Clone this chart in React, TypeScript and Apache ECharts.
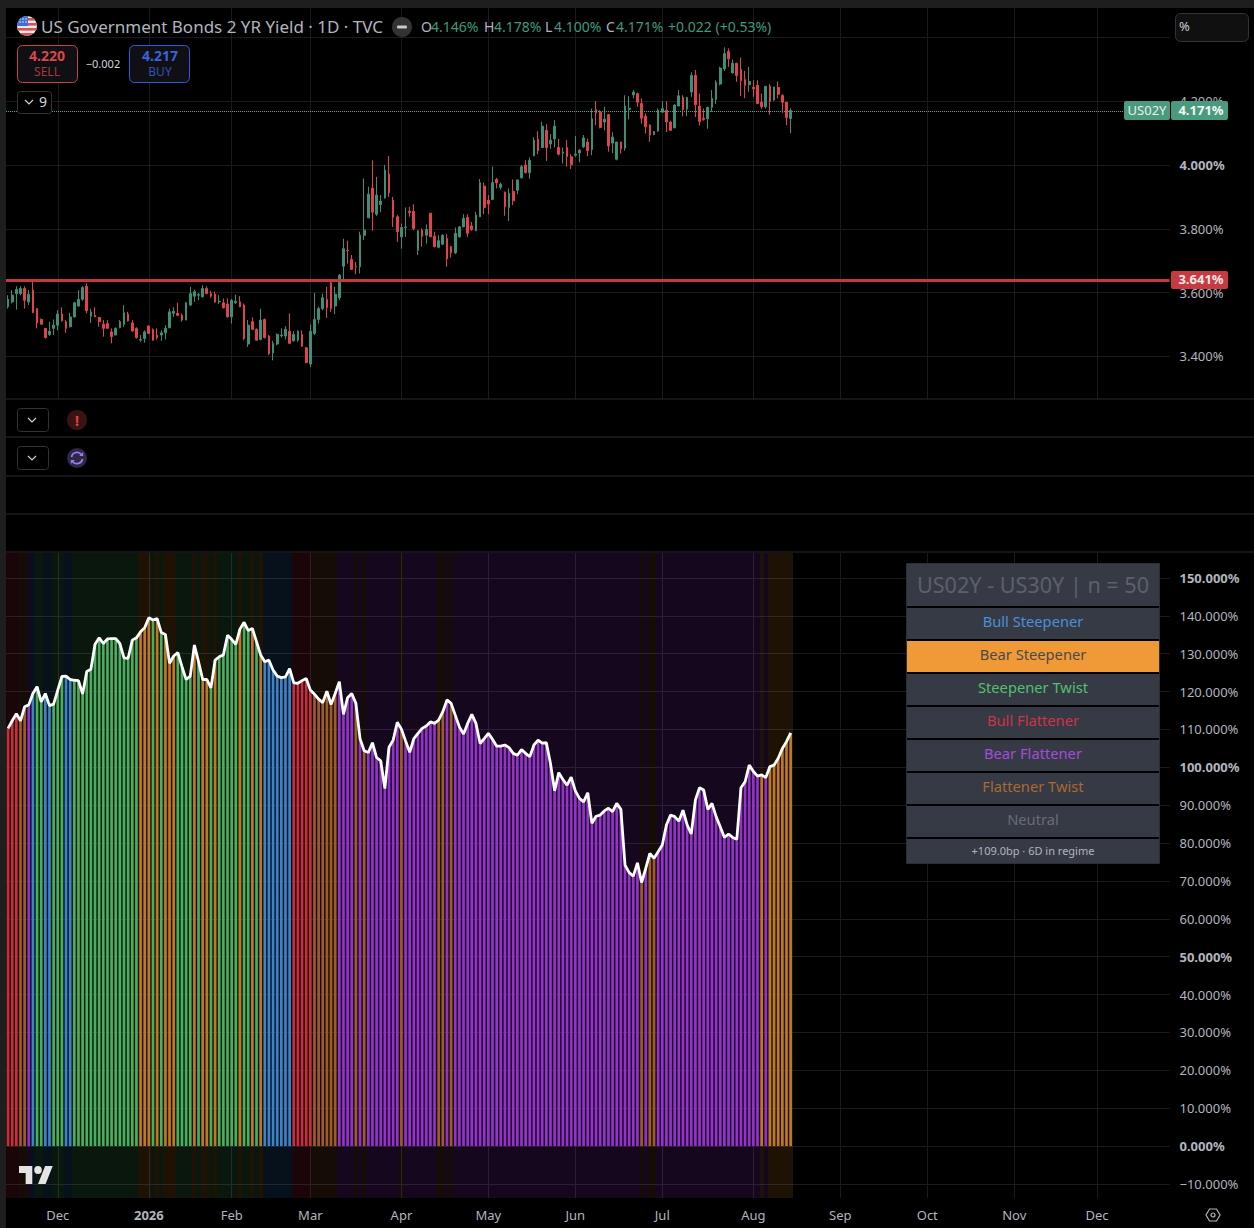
import React, { useEffect, useRef } from "react";
import * as echarts from "echarts";

const FONT = '"Noto Sans", "Open Sans", sans-serif';

// [open, close, low, high] per trading day
const candleRows: number[][] = [
[3.556,3.579,3.550,3.592],[3.571,3.592,3.566,3.608],[3.597,3.610,3.547,3.620],[3.597,3.613,3.592,3.620],[3.613,3.576,3.550,3.620],
[3.571,3.595,3.561,3.608],[3.608,3.537,3.537,3.639],[3.550,3.505,3.488,3.550],[3.516,3.501,3.501,3.519],[3.488,3.459,3.456,3.488],
[3.469,3.479,3.464,3.509],[3.488,3.498,3.467,3.516],[3.498,3.533,3.482,3.545],[3.533,3.512,3.509,3.554],[3.509,3.488,3.474,3.514],
[3.493,3.524,3.491,3.537],[3.524,3.568,3.522,3.571],[3.558,3.579,3.556,3.608],[3.579,3.616,3.574,3.620],[3.620,3.543,3.535,3.629],
[3.526,3.539,3.505,3.550],[3.529,3.524,3.524,3.554],[3.522,3.509,3.493,3.524],[3.501,3.488,3.462,3.514],[3.503,3.488,3.488,3.514],
[3.477,3.462,3.441,3.488],[3.467,3.488,3.467,3.491],[3.490,3.509,3.488,3.514],[3.501,3.537,3.493,3.561],[3.533,3.512,3.509,3.540],
[3.505,3.480,3.477,3.514],[3.488,3.459,3.456,3.491],[3.451,3.453,3.446,3.467],[3.456,3.477,3.443,3.482],[3.495,3.472,3.470,3.498],
[3.484,3.451,3.449,3.488],[3.467,3.459,3.453,3.488],[3.467,3.474,3.449,3.482],[3.474,3.488,3.453,3.498],[3.490,3.540,3.488,3.550],
[3.535,3.542,3.524,3.554],[3.535,3.529,3.526,3.568],[3.529,3.514,3.509,3.535],[3.514,3.568,3.514,3.571],[3.561,3.597,3.558,3.618],
[3.589,3.603,3.571,3.610],[3.592,3.594,3.576,3.599],[3.587,3.613,3.585,3.623],[3.613,3.597,3.595,3.620],[3.597,3.589,3.584,3.606],
[3.595,3.571,3.568,3.603],[3.571,3.573,3.564,3.592],[3.568,3.553,3.550,3.582],[3.564,3.524,3.522,3.582],[3.524,3.576,3.503,3.580],
[3.568,3.573,3.564,3.594],[3.571,3.556,3.554,3.589],[3.561,3.456,3.451,3.566],[3.439,3.498,3.430,3.514],[3.509,3.485,3.482,3.522],
[3.485,3.451,3.449,3.488],[3.453,3.514,3.451,3.550],[3.516,3.459,3.456,3.519],[3.464,3.409,3.404,3.467],[3.411,3.441,3.388,3.449],
[3.439,3.469,3.435,3.472],[3.465,3.467,3.459,3.488],[3.464,3.485,3.453,3.495],[3.479,3.441,3.439,3.535],[3.449,3.469,3.446,3.479],
[3.451,3.479,3.446,3.482],[3.469,3.432,3.430,3.482],[3.427,3.381,3.378,3.430],[3.376,3.479,3.367,3.500],[3.472,3.516,3.467,3.599],
[3.516,3.550,3.503,3.556],[3.550,3.584,3.545,3.597],[3.579,3.553,3.521,3.618],[3.631,3.550,3.540,3.636],[3.558,3.595,3.533,3.618],
[3.584,3.655,3.576,3.658],[3.683,3.738,3.641,3.769],[3.733,3.731,3.691,3.763],[3.704,3.673,3.671,3.718],[3.683,3.681,3.658,3.696],
[3.681,3.780,3.660,3.791],[3.780,3.796,3.765,3.958],[3.835,3.909,3.833,3.932],[3.928,3.852,3.794,4.015],[3.846,3.906,3.840,3.963],
[3.876,3.887,3.852,3.906],[3.897,3.984,3.895,4.000],[3.972,3.913,3.900,4.028],[3.890,3.836,3.806,3.900],[3.838,3.791,3.759,3.843],
[3.775,3.804,3.738,3.817],[3.804,3.806,3.775,3.867],[3.855,3.851,3.838,3.869],[3.855,3.801,3.796,3.877],[3.733,3.794,3.718,3.796],
[3.796,3.777,3.744,3.801],[3.780,3.798,3.754,3.814],[3.849,3.775,3.775,3.849],[3.777,3.744,3.742,3.791],[3.742,3.763,3.739,3.780],
[3.752,3.780,3.749,3.783],[3.770,3.706,3.681,3.783],[3.744,3.725,3.710,3.746],[3.725,3.786,3.721,3.804],[3.775,3.806,3.773,3.809],
[3.806,3.833,3.806,3.846],[3.836,3.786,3.775,3.846],[3.809,3.798,3.794,3.822],[3.794,3.843,3.793,3.853],[3.838,3.945,3.838,3.956],
[3.934,3.867,3.846,3.945],[3.890,3.878,3.846,3.906],[3.892,3.945,3.890,3.995],[3.955,3.944,3.927,3.960],[3.930,3.940,3.923,3.945],
[3.915,3.869,3.841,3.917],[3.867,3.912,3.825,3.927],[3.917,3.888,3.875,3.955],[3.921,3.953,3.909,3.955],[3.960,3.995,3.958,4.000],
[4.000,3.976,3.974,4.015],[3.976,4.015,3.957,4.024],[4.029,4.078,4.028,4.087],[4.081,4.045,4.034,4.106],[4.055,4.122,4.054,4.136],
[4.109,4.055,4.013,4.128],[4.066,4.078,4.051,4.097],[4.082,4.122,4.055,4.141],[4.055,4.034,4.030,4.082],[4.038,4.041,4.005,4.055],
[4.055,4.026,3.995,4.078],[4.026,4.001,3.988,4.034],[4.031,4.034,4.026,4.091],[4.038,4.047,4.009,4.049],[4.057,4.085,4.054,4.094],
[4.072,4.045,4.028,4.083],[4.049,4.145,4.031,4.177],[4.174,4.164,4.125,4.200],[4.166,4.118,4.115,4.172],[4.135,4.144,4.109,4.183],
[4.158,4.060,4.042,4.160],[4.069,4.088,4.038,4.103],[4.018,4.072,4.015,4.073],[4.072,4.051,4.036,4.073],[4.053,4.185,4.045,4.219],
[4.174,4.178,4.143,4.216],[4.220,4.229,4.209,4.235],[4.224,4.197,4.183,4.227],[4.193,4.147,4.130,4.209],[4.153,4.120,4.099,4.162],
[4.125,4.094,4.073,4.128],[4.095,4.105,4.094,4.107],[4.107,4.172,4.104,4.177],[4.166,4.177,4.164,4.200],[4.172,4.135,4.104,4.200],
[4.135,4.109,4.107,4.139],[4.117,4.188,4.115,4.191],[4.185,4.217,4.185,4.235],[4.212,4.174,4.153,4.219],[4.176,4.212,4.153,4.214],
[4.229,4.281,4.214,4.291],[4.281,4.189,4.151,4.298],[4.185,4.137,4.124,4.224],[4.147,4.143,4.139,4.177],[4.145,4.181,4.114,4.183],
[4.181,4.209,4.167,4.235],[4.206,4.259,4.191,4.266],[4.254,4.304,4.250,4.308],[4.302,4.350,4.295,4.369],[4.356,4.333,4.308,4.366],
[4.289,4.319,4.287,4.331],[4.319,4.281,4.261,4.321],[4.300,4.264,4.216,4.337],[4.268,4.250,4.210,4.295],[4.252,4.262,4.230,4.308],
[4.244,4.239,4.214,4.266],[4.250,4.193,4.191,4.266],[4.197,4.183,4.176,4.224],[4.183,4.247,4.177,4.247],[4.247,4.199,4.158,4.254],
[4.204,4.245,4.201,4.245],[4.243,4.222,4.209,4.262],[4.218,4.197,4.164,4.222],[4.197,4.149,4.125,4.197],[4.146,4.171,4.100,4.178],
];

const spreadLine: number[] = [
110.3,112.3,114.2,112.3,116.0,116.5,119.5,121.3,117.3,119.5,116.3,116.7,120.4,124.0,124.1,123.2,123.0,122.9,119.4,125.3,
125.9,132.5,134.2,132.7,133.9,134.0,134.0,132.7,128.9,128.8,133.6,134.2,135.8,136.9,139.5,138.9,139.3,135.6,135.1,127.5,
129.4,130.3,126.6,123.2,124.1,132.3,127.9,123.2,123.2,121.0,128.3,129.2,129.7,134.9,133.8,132.5,136.5,138.3,136.1,136.7,
133.2,129.7,127.9,128.3,125.7,124.1,123.7,123.9,126.1,122.3,122.2,122.9,123.5,120.4,119.3,118.0,117.1,120.1,116.6,119.5,
122.6,114.0,118.4,119.5,116.9,107.6,104.4,103.9,106.5,102.6,101.7,94.4,105.3,107.2,111.9,110.1,107.0,104.0,107.6,109.0,
110.3,110.9,112.0,111.6,112.5,114.7,117.8,116.9,113.8,110.7,108.8,111.6,114.0,111.6,106.3,107.6,109.0,107.4,105.6,105.6,
105.9,105.2,103.7,103.2,104.7,103.7,102.8,105.9,107.2,106.4,106.5,101.0,93.8,98.6,96.8,95.3,97.4,93.8,91.8,90.9,
93.3,85.2,87.1,87.4,88.5,89.2,88.3,90.5,88.9,74.2,72.2,71.3,74.8,69.6,73.3,77.3,76.0,77.7,79.5,84.8,
87.4,87.0,85.8,88.7,84.8,82.4,91.4,94.6,94.0,88.9,90.5,87.0,84.3,81.5,82.4,81.5,81.0,94.6,96.2,100.6,
98.9,97.7,98.0,97.3,100.2,100.6,102.4,105.0,106.8,109.1,
];

// [regime, consecutive trading days]; BS bull steepener, SB bear steepener, ST steepener twist, BF bull flattener, FB bear flattener, FT flattener twist
const regimeRuns: [string, number][] = [
["BF",3],["FT",2],["FB",1],["BS",1],["ST",2],["BS",2],["ST",3],["BS",2],["ST",16],["SB",3],["ST",1],["SB",1],["ST",1],["SB",3],["ST",4],["SB",1],["ST",1],["SB",2],["ST",1],["SB",1],["ST",5],["SB",1],["ST",2],["SB",1],["ST",1],["SB",1],
["BS",7],["BF",5],["FT",6],["FB",4],["FT",1],["FB",1],["FT",1],["FB",8],["FT",1],["FB",8],["FT",2],["FB",1],["FT",1],["FB",45],["FT",1],["FB",1],["FT",2],["FB",25],["SB",1],["FB",1],["SB",6],
];

const regimeColor: Record<string, string> = { BS: "#3c83c8", SB: "#bd7925", ST: "#4bae5f", BF: "#c4303f", FB: "#9433c9", FT: "#9f5c2b" };
const regimeBand: Record<string, string> = { BS: "rgba(50,130,210,0.13)", SB: "rgba(230,140,30,0.13)", ST: "rgba(70,190,100,0.12)", BF: "rgba(210,40,60,0.13)", FB: "rgba(150,50,210,0.14)", FT: "rgba(210,120,50,0.1)" };

const monthTicks: [number, string][] = [[12,"Dec"],[34,"2026"],[54,"Feb"],[73,"Mar"],[95,"Apr"],[116,"May"],[137,"Jun"],[158,"Jul"],[180,"Aug"],[201,"Sep"],[222,"Oct"],[243,"Nov"],[263,"Dec"]];
const slotCount = 281;
const priceGridTicks = [3.4, 3.6, 3.8, 4.0, 4.2, 4.4];
const priceLabelTicks = [3.4, 3.6, 3.8, 4.0, 4.2];
const spreadTicks = [-10,0,10,20,30,40,50,60,70,80,90,100,110,120,130,140,150];
const lastClose = 4.171;
const alertLevel = 3.641;

const legendRows: [string, string, number, number][] = [
["Bull Steepener","#4a90d9",608,639],["Bear Steepener","#4a4a4a",641,672],["Steepener Twist","#51c06f",674,705],["Bull Flattener","#cf3348",707,738],
["Bear Flattener","#a64cdc",740,771],["Flattener Twist","#a9692f",773,804],["Neutral","#696c77",806,837],
];

const FLAG = "data:image/svg+xml;utf8," + encodeURIComponent('<svg xmlns="http://www.w3.org/2000/svg" viewBox="0 0 20 20"><defs><clipPath id="c"><circle cx="10" cy="10" r="10"/></clipPath></defs><g clip-path="url(#c)"><rect width="20" height="20" fill="#e8e8ee"/><rect y="2" width="20" height="2.6" fill="#d9534f"/><rect y="7" width="20" height="2.6" fill="#d9534f"/><rect y="12" width="20" height="2.6" fill="#d9534f"/><rect y="17" width="20" height="3" fill="#d9534f"/><rect width="11" height="10" fill="#3c6fd8"/><g fill="#fff"><circle cx="3" cy="3" r=".7"/><circle cx="6" cy="3" r=".7"/><circle cx="9" cy="3" r=".7"/><circle cx="3" cy="6" r=".7"/><circle cx="6" cy="6" r=".7"/><circle cx="9" cy="6" r=".7"/></g></g></svg>');
const REFRESH = "data:image/svg+xml;utf8," + encodeURIComponent('<svg xmlns="http://www.w3.org/2000/svg" viewBox="0 0 20 20"><circle cx="10" cy="10" r="10" fill="#2e2745"/><g fill="none" stroke="#9b7bea" stroke-width="1.7"><path d="M4.5 9a5.6 5.6 0 0 1 10-2.4"/><path d="M15.5 11a5.6 5.6 0 0 1-10 2.4"/></g><path d="M16.2 4v4h-4z" fill="#9b7bea"/><path d="M3.8 16v-4h4z" fill="#9b7bea"/></svg>');
const GEAR = "data:image/svg+xml;utf8," + encodeURIComponent('<svg xmlns="http://www.w3.org/2000/svg" viewBox="0 0 16 16"><path d="M4.5 2h7L15 8l-3.5 6h-7L1 8z" fill="none" stroke="#b2b5be" stroke-width="1.2"/><circle cx="8" cy="8" r="2" fill="none" stroke="#b2b5be" stroke-width="1.2"/></svg>');

echarts.graphic.registerShape("tvLogo", echarts.graphic.extendPath("M14 22H7V11H0V4h14v18zM28 22h-8l7.5-18h8L28 22z M24 8a4 4 0 1 1-8 0 4 4 0 0 1 8 0z" as any, {}));

function txt(text: string, x: number, y: number, fill: string, size: number, align = "left", weight = "normal") {
  return { type: "text", z: 60, silent: true, style: { text, x, y: y - 1, fill, font: `${weight} ${size}px ${FONT}`, align, verticalAlign: "middle" } };
}
function box(x: number, y: number, w: number, h: number, fill: string, stroke = "", r = 0) {
  return { type: "rect", z: 50, silent: true, shape: { x, y, width: w, height: h, r }, style: { fill, stroke: stroke || undefined, lineWidth: stroke ? 1 : 0 } };
}
function rule(y: number) {
  return { type: "line", z: 40, silent: true, shape: { x1: 6, y1: y, x2: 1254, y2: y }, style: { stroke: "#2a2a33", lineWidth: 1 } };
}
function chevron(cx: number, cy: number) {
  return { type: "polyline", z: 60, silent: true, shape: { points: [[cx - 4, cy - 2], [cx, cy + 2], [cx + 4, cy - 2]] }, style: { stroke: "#d1d4dc", lineWidth: 1.2, fill: "none" } };
}

function buildOption() {
  const regimes: string[] = regimeRuns.flatMap(([r, n]) => Array(n).fill(r));
  const slots = Array.from({ length: slotCount }, (_, i) => String(i));
  const tickMap = new Map(monthTicks);
  const isTick = (i: number) => tickMap.has(i);
  const gridColor = "#1b1b1f";

  const xCommon = {
    type: "category",
    data: slots,
    boundaryGap: true,
    axisLine: { show: false },
    axisTick: { show: false, alignWithLabel: true, interval: (i: number) => isTick(i) },
    splitLine: { show: true, alignWithLabel: true, interval: (i: number) => isTick(i), lineStyle: { color: gridColor, width: 1 } },
  };
  const yLabel = { color: "#b2b5be", fontFamily: FONT, fontSize: 13, margin: 10 };

  const elements: any[] = [
    box(0, 0, 1254, 8, "#1e1e1e"),
    box(0, 0, 6, 1228, "#1e1e1e"),
    rule(399), rule(437), rule(476), rule(514), rule(552),
    { type: "image", z: 60, silent: true, style: { image: FLAG, x: 17, y: 16, width: 20, height: 20 } },
    txt("US Government Bonds 2 YR Yield · 1D · TVC", 41, 27, "#b2b5be", 17),
    { type: "circle", z: 50, silent: true, shape: { cx: 402, cy: 27, r: 10 }, style: { fill: "#333" } },
    box(397, 25.5, 10, 3, "#c8c8c8", "", 1),
    txt("O", 421, 27, "#b2b5be", 14), txt("4.146%", 431, 27, "#3f9a7f", 14),
    txt("H", 484, 27, "#b2b5be", 14), txt("4.178%", 494, 27, "#3f9a7f", 14),
    txt("L", 545, 27, "#b2b5be", 14), txt("4.100%", 554, 27, "#3f9a7f", 14),
    txt("C", 606, 27, "#b2b5be", 14), txt("4.171%", 616, 27, "#3f9a7f", 14),
    txt("+0.022 (+0.53%)", 668, 27, "#3f9a7f", 14),
    box(17.5, 45.5, 60, 37, "#101014", "#c5444a", 5),
    txt("4.220", 47, 56, "#d8454c", 14, "center", "bold"), txt("SELL", 47, 72, "#a8383e", 12, "center"),
    txt("−0.002", 103, 64, "#d1d4dc", 11, "center"),
    box(129.5, 45.5, 60, 37, "#101014", "#2f5be0", 5),
    txt("4.217", 160, 56, "#3b62dc", 14, "center", "bold"), txt("BUY", 160, 72, "#2f52bb", 12, "center"),
    box(17.5, 91.5, 34, 22, "#000", "#333", 3), chevron(29, 102), txt("9", 43, 102, "#d1d4dc", 14, "center"),
    box(1175.5, 13.5, 73, 28, "#101010", "#333", 5), txt("%", 1179, 27, "#c8cad0", 13),
    box(1124, 101, 46, 19, "#4a9a80", "", 2), txt("US02Y", 1147, 111, "#e8f0ec", 13, "center"),
    box(1171, 101, 57, 19, "#4a9a80", "", 2), txt("4.171%", 1201, 111, "#f2f5f3", 13, "center", "bold"),
    box(1171, 271, 57, 18, "#c63b42", "", 2), txt("3.641%", 1201, 280, "#f5e8e8", 13, "center", "bold"),
    box(17.5, 408.5, 31, 23, "#000", "#333", 3), chevron(32, 420),
    { type: "circle", z: 50, silent: true, shape: { cx: 77, cy: 420, r: 10 }, style: { fill: "#3a1414" } },
    txt("!", 77, 421, "#e8413f", 14, "center", "bold"),
    box(17.5, 446.5, 31, 23, "#000", "#333", 3), chevron(32, 458),
    { type: "image", z: 60, silent: true, style: { image: REFRESH, x: 67, y: 448, width: 20, height: 20 } },
    box(906.5, 563.5, 253, 300, "#000", "#2a2e39"),
    box(907, 564, 252, 42, "#363a45"),
    txt("US02Y - US30Y | n = 50", 1033, 585, "#5d606b", 21.6, "center"),
    box(907, 839, 252, 24, "#363a45"),
    txt("+109.0bp · 6D in regime", 1033, 851, "#b2b5be", 11, "center"),
    { type: "tvLogo", z: 60, silent: true, x: 19, y: 1162, scaleX: 0.95, scaleY: 1, style: { fill: "#e4e4e4" } },
    { type: "image", z: 60, silent: true, style: { image: GEAR, x: 1205, y: 1207, width: 16, height: 16 } },
  ];
  for (const [label, color, y0, y1] of legendRows) {
    elements.push(box(907, y0, 252, y1 - y0, label === "Bear Steepener" ? "#ef9a36" : "#363a45"));
    elements.push(txt(label, 1033, (y0 + y1) / 2 - 1.5, color, 14.7, "center"));
  }

  const rich = { b: { fontWeight: "bold", color: "#b2b5be", fontFamily: FONT, fontSize: 13 } };

  return {
    animation: false,
    backgroundColor: "#000",
    textStyle: { fontFamily: FONT },
    graphic: { elements },
    grid: [
      { left: 6, top: 8, width: 1163.5, height: 391 },
      { left: 6, top: 553, width: 1163.5, height: 645 },
    ],
    xAxis: [
      { ...xCommon, gridIndex: 0, axisLabel: { show: false } },
      {
        ...xCommon,
        gridIndex: 1,
        axisLabel: {
          show: true,
          interval: (i: number) => isTick(i),
          formatter: (_v: string, i: number) => (tickMap.get(i) === "2026" ? "{b|2026}" : tickMap.get(i) ?? ""),
          color: "#b2b5be",
          fontFamily: FONT,
          fontSize: 13,
          margin: 10,
          rich,
          hideOverlap: false,
        },
      },
    ],
    yAxis: [
      {
        type: "value", gridIndex: 0, position: "right", min: 3.2665, max: 4.4925,
        axisLine: { show: false },
        axisTick: { show: false, customValues: priceGridTicks },
        splitLine: { show: true, lineStyle: { color: gridColor, width: 1 } },
        axisLabel: {
          ...yLabel,
          customValues: priceLabelTicks,
          rich,
          formatter: (v: number) => (Math.abs(v - 4) < 1e-6 ? `{b|${v.toFixed(3)}%}` : `${v.toFixed(3)}%`),
        },
      },
      {
        type: "value", gridIndex: 1, position: "right", min: -13.7, max: 156.6,
        axisLine: { show: false },
        axisTick: { show: false, customValues: spreadTicks },
        splitLine: { show: true, lineStyle: { color: gridColor, width: 1 } },
        axisLabel: {
          ...yLabel,
          customValues: spreadTicks,
          rich,
          formatter: (v: number) => {
            const s = (v < 0 ? "−" : "") + Math.abs(v).toFixed(3) + "%";
            return v % 50 === 0 ? `{b|${s}}` : s;
          },
        },
      },
    ],
    series: [
      {
        type: "candlestick",
        xAxisIndex: 0,
        yAxisIndex: 0,
        data: candleRows,
        barWidth: 2.2,
        z: 3,
        itemStyle: { color: "#3c9078", color0: "#e0444a", borderColor: "#3c9078", borderColor0: "#e0444a", borderWidth: 1 },
        markLine: {
          silent: true,
          symbol: "none",
          animation: false,
          label: { show: false },
          data: [
            { yAxis: lastClose, lineStyle: { color: "#4aa88a", type: "dotted", width: 1 } },
            { yAxis: alertLevel, lineStyle: { color: "#c8363e", type: "solid", width: 3 } },
          ],
        },
      },
      {
        type: "custom",
        xAxisIndex: 1,
        yAxisIndex: 1,
        z: 1,
        silent: true,
        data: regimes.map((r, i) => [i, r]),
        encode: { x: 0 },
        renderItem: (params: any, api: any) => {
          const i = api.value(0);
          const c = api.coord([i, 0]);
          const w = api.size([1, 0])[0];
          const cs = params.coordSys;
          const x0 = Math.round(c[0] - w / 2);
          const x1 = Math.round(c[0] + w / 2);
          return {
            type: "rect",
            shape: { x: x0, y: cs.y, width: x1 - x0, height: cs.height },
            style: { fill: regimeBand[regimes[i]] },
          };
        },
      },
      {
        type: "bar",
        xAxisIndex: 1,
        yAxisIndex: 1,
        z: 2,
        barWidth: 2.7,
        barGap: "-100%",
        data: spreadLine.map((v, i) => ({ value: v, itemStyle: { color: regimeColor[regimes[i]] } })),
      },
      {
        type: "line",
        xAxisIndex: 1,
        yAxisIndex: 1,
        z: 3,
        data: spreadLine,
        showSymbol: false,
        symbol: "none",
        smooth: false,
        lineStyle: { color: "#ffffff", width: 2.8 },
      },
    ],
  };
}

export default function App() {
  const ref = useRef<HTMLDivElement>(null);
  useEffect(() => {
    document.body.style.margin = "0";
    document.body.style.background = "#000";
    const chart = echarts.init(ref.current!, undefined, { renderer: "svg" });
    chart.setOption(buildOption() as any);
    return () => chart.dispose();
  }, []);
  return <div ref={ref} style={{ position: "absolute", left: 0, top: 0, width: 1254, height: 1228 }} />;
}
